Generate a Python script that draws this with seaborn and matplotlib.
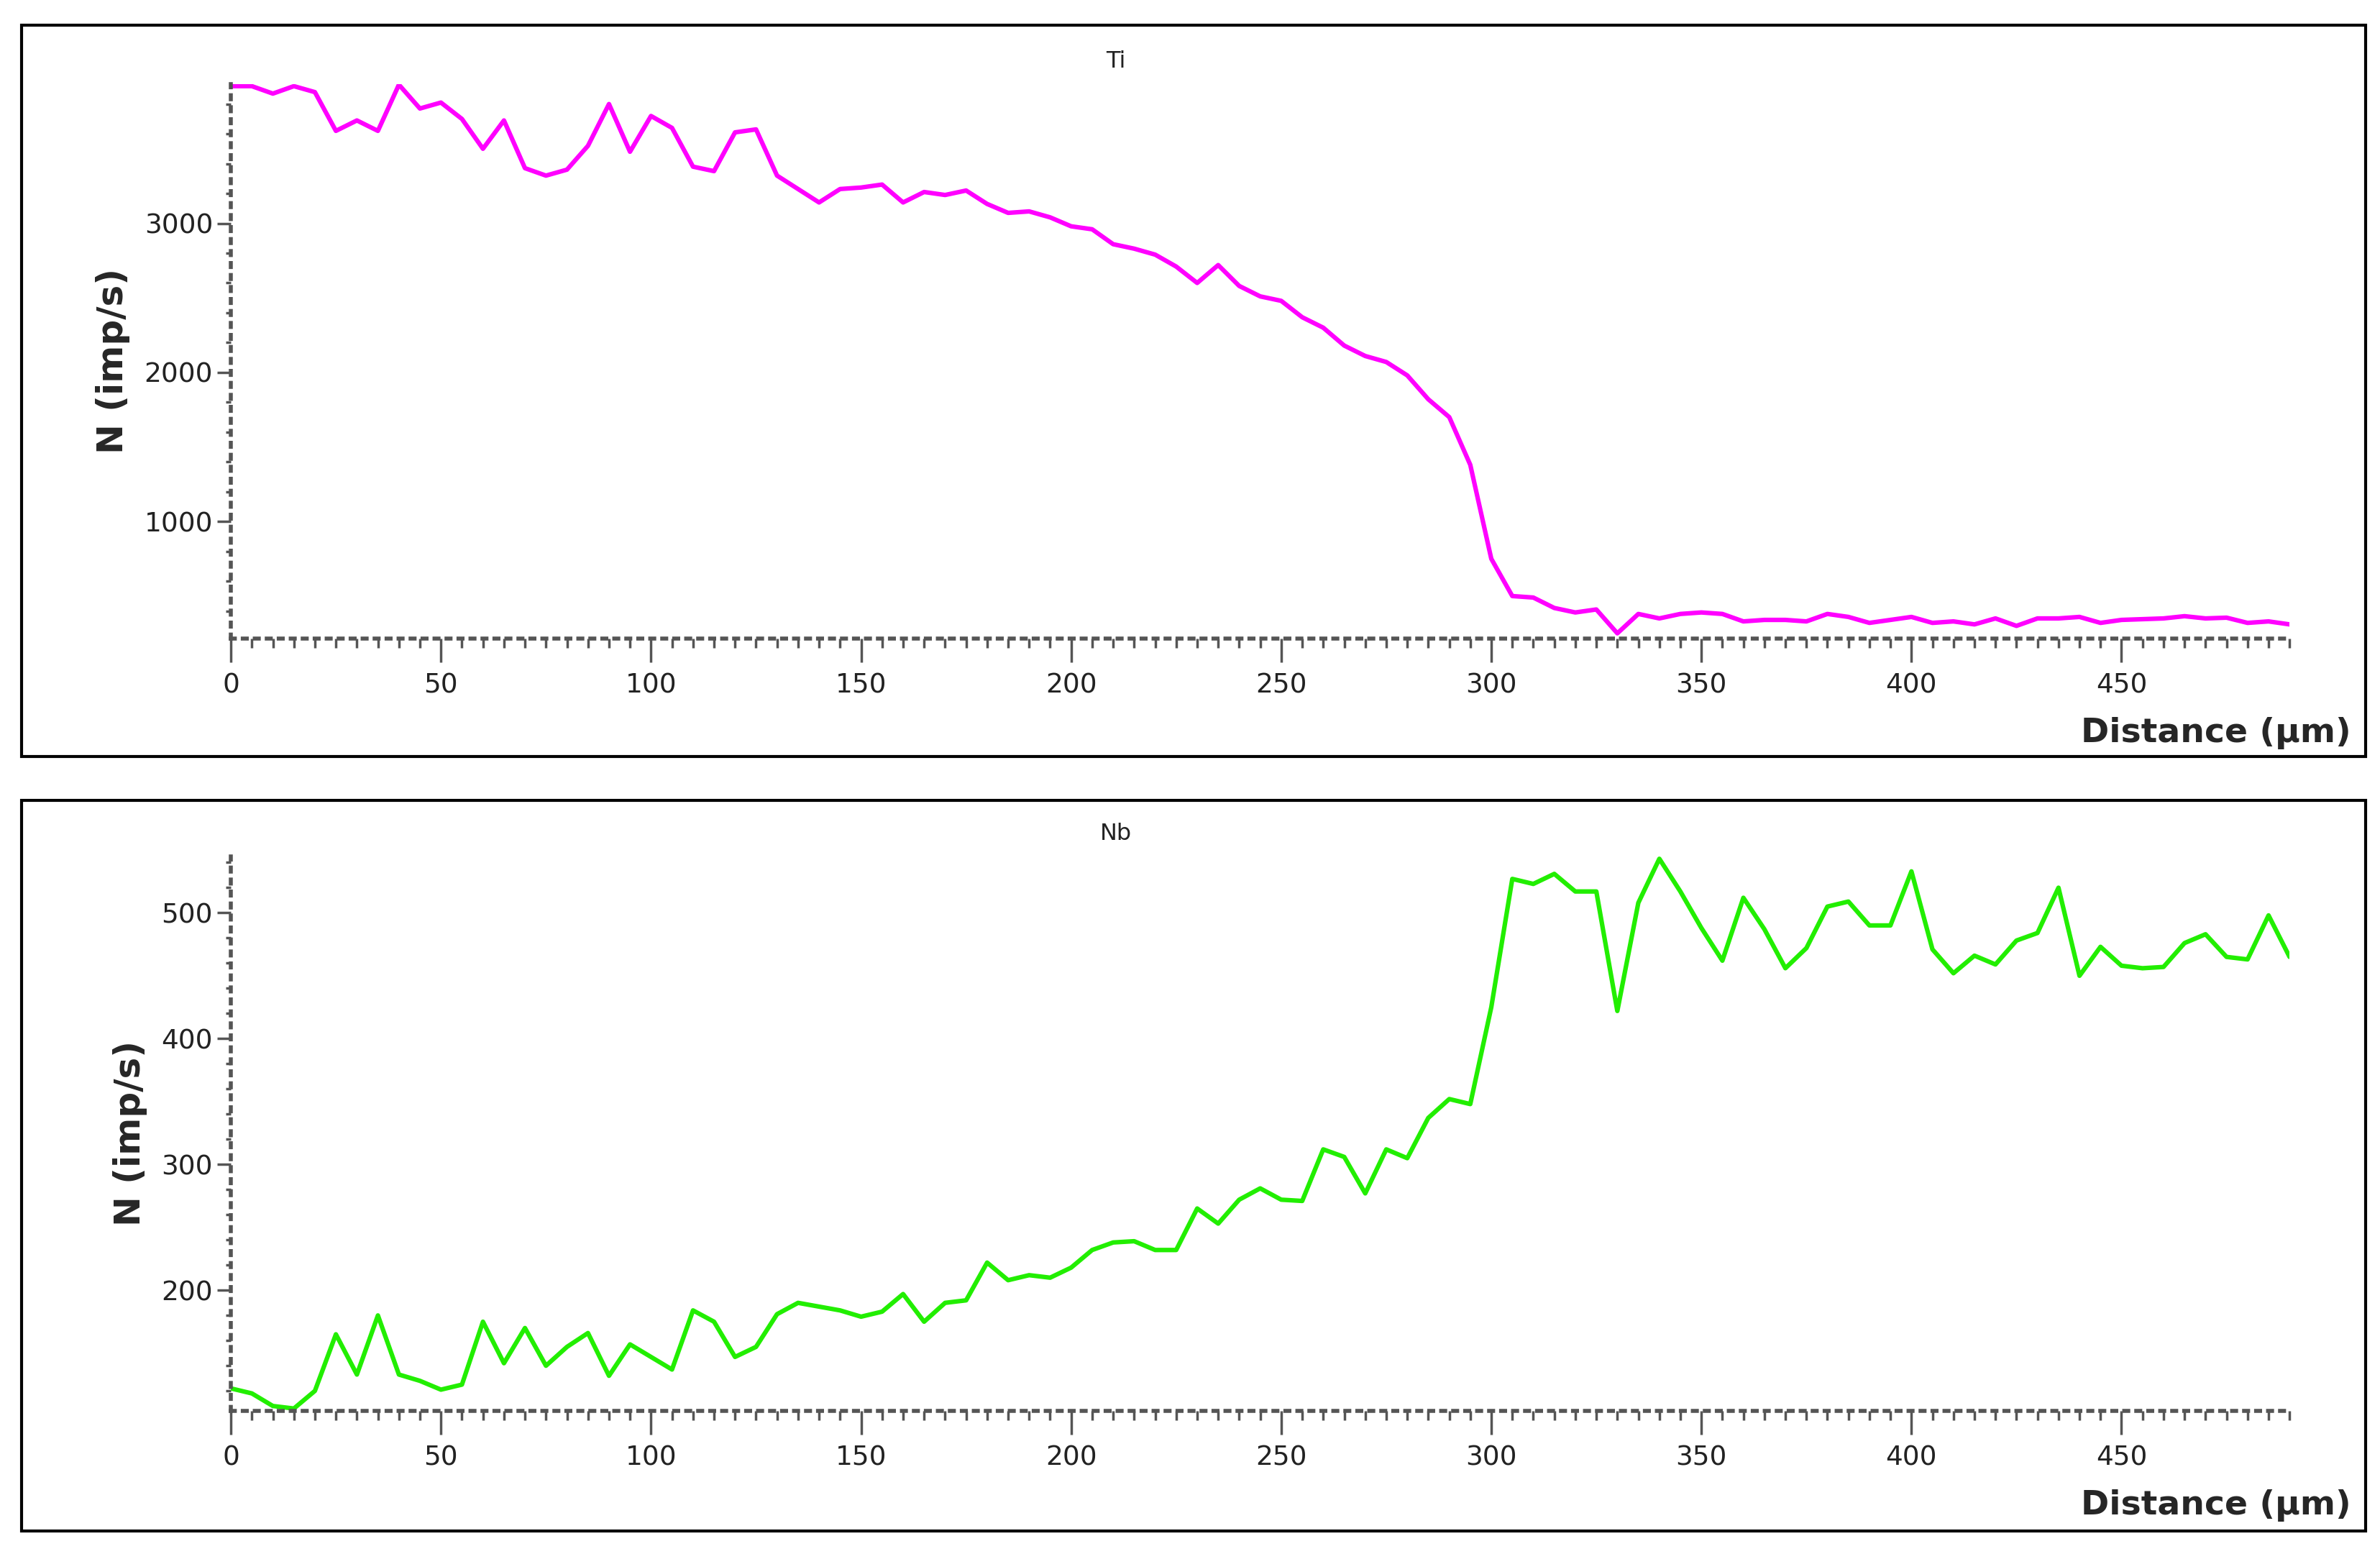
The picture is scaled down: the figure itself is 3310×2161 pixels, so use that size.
import numpy as np
import pandas as pd
import seaborn as sns
import matplotlib.pyplot as plt
from matplotlib.patches import Rectangle
from matplotlib.ticker import MultipleLocator

# line scan, one point every 5 um
ti_counts = [3920, 3920, 3870, 3920, 3880, 3620, 3690, 3620, 3930, 3770,
             3810, 3700, 3500, 3690, 3370, 3320, 3360, 3520, 3800, 3480,
             3720, 3640, 3380, 3350, 3610, 3630, 3320, 3230, 3140, 3230,
             3240, 3260, 3140, 3210, 3190, 3220, 3130, 3070, 3080, 3040,
             2980, 2960, 2860, 2830, 2790, 2710, 2600, 2720, 2580, 2510,
             2480, 2370, 2300, 2180, 2110, 2070, 1980, 1820, 1700, 1380,
             750, 500, 490, 420, 390, 410, 250, 380, 350, 380,
             390, 380, 330, 340, 340, 330, 380, 360, 320, 340,
             360, 320, 330, 310, 350, 300, 350, 350, 360, 320,
             340, 345, 350, 365, 350, 355, 320, 330, 310]
nb_counts = [122, 118, 108, 106, 120, 165, 133, 180, 133, 128,
             121, 125, 175, 142, 170, 140, 155, 166, 132, 157,
             147, 137, 184, 175, 147, 155, 181, 190, 187, 184,
             179, 183, 197, 175, 190, 192, 222, 208, 212, 210,
             218, 232, 238, 239, 232, 232, 265, 253, 272, 281,
             272, 271, 312, 306, 277, 312, 305, 337, 352, 348,
             425, 527, 523, 531, 517, 517, 422, 508, 543, 517,
             488, 462, 512, 487, 456, 472, 505, 509, 490, 490,
             533, 471, 452, 466, 459, 478, 484, 520, 450, 473,
             458, 456, 457, 476, 483, 465, 463, 498, 465]
ti_distance = np.arange(len(ti_counts)) * 5
nb_distance = np.arange(len(nb_counts)) * 5

sns.set_style("white")
plt.rcParams['font.family'] = ['DejaVu Sans']

fig = plt.figure(figsize=(33.1, 21.61), dpi=100)

# panel frames
for y0, h in [(0.513, 0.471), (0.015, 0.470)]:
    fig.patches.append(Rectangle((0.009, y0), 0.985, h, transform=fig.transFigure,
                                 fill=False, edgecolor='black', linewidth=3))

panels = [
    (ti_distance, ti_counts, 'Ti', '#FF00FF', [0.097, 0.589, 0.865, 0.357], (214, 3935), 1000, 200),
    (nb_distance, nb_counts, 'Nb', '#22EE00', [0.097, 0.092, 0.865, 0.357], (104, 545), 100, 20),
]

for dist, counts, name, color, rect, ylim, major, minor in panels:
    ax = fig.add_axes(rect)
    df = pd.DataFrame({'d': dist, 'n': counts})
    sns.lineplot(data=df, x='d', y='n', color=color, linewidth=4.5, ax=ax)
    ax.set_xlim(0, 490)
    ax.set_ylim(*ylim)
    ax.xaxis.set_major_locator(MultipleLocator(50))
    ax.xaxis.set_minor_locator(MultipleLocator(5))
    ax.yaxis.set_major_locator(MultipleLocator(major))
    ax.yaxis.set_minor_locator(MultipleLocator(minor))
    for s in ['top', 'right']:
        ax.spines[s].set_visible(False)
    for s in ['left', 'bottom']:
        ax.spines[s].set_linestyle((0, (1, 2)))
        ax.spines[s].set_linewidth(4)
        ax.spines[s].set_color('#555555')
    ax.tick_params(axis='x', which='both', bottom=True)
    ax.tick_params(axis='y', which='both', left=True)
    ax.tick_params(axis='x', which='major', direction='out', length=24, width=2.5,
                   color='#555555', labelsize=27, labelcolor='#222222', pad=10)
    ax.tick_params(axis='x', which='minor', direction='out', length=9, width=2.5,
                   color='#555555')
    ax.tick_params(axis='y', which='major', direction='out', length=14, width=2.5,
                   color='#555555', labelsize=27, labelcolor='#222222', pad=4)
    ax.tick_params(axis='y', which='minor', direction='out', length=5, width=2.5,
                   color='#555555')
    ax.set_xlabel('')
    ax.set_ylabel('N (imp/s)', fontsize=36, fontweight='bold', labelpad=14)
    ax.set_title(name, fontsize=23, color='#222222', pad=16, x=0.43)
    ax.text(1.03, -0.17, 'Distance (µm)', transform=ax.transAxes, ha='right',
            va='center', fontsize=34, fontweight='bold')

fig.savefig('out.png', dpi=100)
